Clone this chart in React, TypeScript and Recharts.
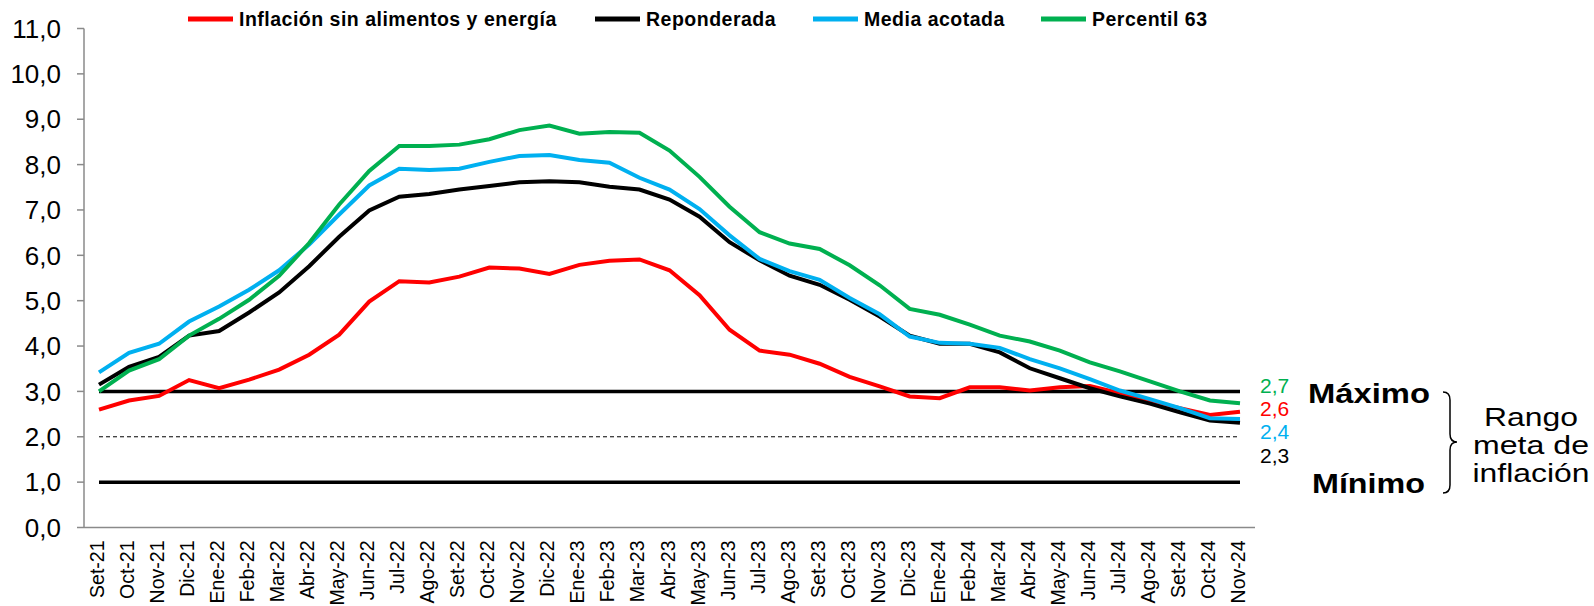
import { LineChart, Line, XAxis, YAxis, ReferenceLine } from "recharts"

const months = [
  "Set-21", "Oct-21", "Nov-21", "Dic-21", "Ene-22", "Feb-22", "Mar-22", "Abr-22", "May-22", "Jun-22",
  "Jul-22", "Ago-22", "Set-22", "Oct-22", "Nov-22", "Dic-22", "Ene-23", "Feb-23", "Mar-23", "Abr-23",
  "May-23", "Jun-23", "Jul-23", "Ago-23", "Set-23", "Oct-23", "Nov-23", "Dic-23", "Ene-24", "Feb-24",
  "Mar-24", "Abr-24", "May-24", "Jun-24", "Jul-24", "Ago-24", "Set-24", "Oct-24", "Nov-24",
]

const sinAlimentos = [
  2.6, 2.8, 2.9, 3.25, 3.07, 3.26, 3.48, 3.81, 4.25, 4.98, 5.43, 5.4, 5.53, 5.73,
  5.71, 5.59, 5.79, 5.88, 5.91, 5.67, 5.12, 4.36, 3.9, 3.81, 3.61, 3.32, 3.11,
  2.89, 2.85, 3.09, 3.09, 3.02, 3.09, 3.12, 2.96, 2.78, 2.63, 2.48, 2.55,
]
const reponderada = [
  3.15, 3.54, 3.76, 4.23, 4.33, 4.74, 5.18, 5.76, 6.41, 6.99, 7.29, 7.35, 7.45, 7.53,
  7.61, 7.63, 7.61, 7.51, 7.45, 7.23, 6.85, 6.29, 5.89, 5.55, 5.35, 5.02, 4.65,
  4.23, 4.05, 4.05, 3.86, 3.51, 3.29, 3.07, 2.89, 2.73, 2.54, 2.36, 2.31,
]
const mediaAcotada = [
  3.42, 3.85, 4.05, 4.54, 4.87, 5.24, 5.67, 6.24, 6.9, 7.54, 7.91, 7.88, 7.91, 8.06,
  8.19, 8.21, 8.1, 8.04, 7.71, 7.45, 7.02, 6.44, 5.92, 5.65, 5.46, 5.06, 4.7,
  4.21, 4.07, 4.05, 3.96, 3.71, 3.51, 3.27, 3.02, 2.83, 2.63, 2.41, 2.39,
]
const percentil63 = [
  3.0, 3.46, 3.71, 4.23, 4.6, 5.02, 5.55, 6.27, 7.12, 7.86, 8.41, 8.41, 8.44, 8.56,
  8.76, 8.86, 8.68, 8.72, 8.7, 8.31, 7.73, 7.07, 6.51, 6.26, 6.14, 5.78, 5.34,
  4.82, 4.69, 4.47, 4.23, 4.1, 3.9, 3.64, 3.44, 3.22, 3.0, 2.8, 2.74,
]

const yTicks = [0, 1, 2, 3, 4, 5, 6, 7, 8, 9, 10, 11]
const rangoMeta = { min: 1, mid: 2, max: 3 }

const series = [
  { key: "sae", name: "Inflación sin alimentos y energía", color: "#ff0000", values: sinAlimentos },
  { key: "rep", name: "Reponderada", color: "#000000", values: reponderada },
  { key: "med", name: "Media acotada", color: "#00b0f0", values: mediaAcotada },
  { key: "p63", name: "Percentil 63", color: "#00b050", values: percentil63 },
]

const lastLabels = [
  { text: "2,7", color: "#00b050", y: 393 },
  { text: "2,6", color: "#ff0000", y: 416 },
  { text: "2,4", color: "#00b0f0", y: 439 },
  { text: "2,3", color: "#000000", y: 463 },
]

const legendPos = [188, 595, 813, 1041]

const FONT = "'Liberation Sans', Arial, sans-serif"
const fmt = (v: number) => v.toFixed(1).replace(".", ",")

const data = months.map((mes, i) => {
  const row: Record<string, string | number> = { mes }
  series.forEach((s) => {
    row[s.key] = s.values[i]
  })
  return row
})

const MonthTick = (props: any) => {
  const { x, y, payload } = props
  const tx = x + 5
  return (
    <text
      x={tx}
      y={y}
      transform={`rotate(-90 ${tx} ${y})`}
      textAnchor="end"
      fontSize={19.5}
      fontFamily={FONT}
      fill="#000"
    >
      {payload.value}
    </text>
  )
}

export default function App() {
  const first = months[0]
  const last = months[months.length - 1]
  return (
    <div style={{ position: "relative", width: 1594, height: 606, background: "#fff" }}>
      <style>{`body{margin:0}`}</style>
      <LineChart
        width={1594}
        height={606}
        data={data}
        margin={{ top: 28.5, right: 339, bottom: 0, left: 0 }}
      >
        <XAxis
          dataKey="mes"
          interval={0}
          height={78.5}
          padding={{ left: 15, right: 15 }}
          axisLine={{ stroke: "#8a8a8a", strokeWidth: 1.5 }}
          tickLine={false}
          tickMargin={7}
          tick={<MonthTick />}
        />
        <YAxis
          domain={[0, 11]}
          ticks={yTicks}
          width={84}
          tickFormatter={fmt}
          tickSize={7}
          tickMargin={16}
          axisLine={{ stroke: "#8a8a8a", strokeWidth: 1.5 }}
          tickLine={{ stroke: "#8a8a8a", strokeWidth: 1.5 }}
          tick={{ fontSize: 26, fill: "#000", fontFamily: FONT }}
        />
        <ReferenceLine
          segment={[{ x: first, y: rangoMeta.max }, { x: last, y: rangoMeta.max }]}
          stroke="#000"
          strokeWidth={3.5}
        />
        <ReferenceLine
          segment={[{ x: first, y: rangoMeta.mid }, { x: last, y: rangoMeta.mid }]}
          stroke="#000"
          strokeWidth={1}
          strokeDasharray="4 3"
        />
        <ReferenceLine
          segment={[{ x: first, y: rangoMeta.min }, { x: last, y: rangoMeta.min }]}
          stroke="#000"
          strokeWidth={3.5}
        />
        {series.map((s) => (
          <Line
            key={s.key}
            type="linear"
            dataKey={s.key}
            name={s.name}
            stroke={s.color}
            strokeWidth={4}
            dot={false}
            activeDot={false}
            isAnimationActive={false}
          />
        ))}
      </LineChart>

      <svg
        width={1594}
        height={606}
        style={{ position: "absolute", left: 0, top: 0, pointerEvents: "none" }}
        fontFamily={FONT}
      >
        {/* legend */}
        {series.map((s, i) => (
          <g key={s.key}>
            <line x1={legendPos[i]} x2={legendPos[i] + 45} y1={19} y2={19} stroke={s.color} strokeWidth={5} />
            <text x={legendPos[i] + 51} y={26} fontSize={19.5} fontWeight="bold" fill="#000" letterSpacing={0.5}>
              {s.name}
            </text>
          </g>
        ))}

        {/* last values */}
        {lastLabels.map((l) => (
          <text key={l.text} x={1260} y={l.y} fontSize={21} fill={l.color}>
            {l.text}
          </text>
        ))}

        <text x={1308} y={402.5} fontSize={27} fontWeight="bold" textLength={122} lengthAdjust="spacingAndGlyphs">
          Máximo
        </text>
        <text x={1312} y={493} fontSize={27} fontWeight="bold" textLength={113} lengthAdjust="spacingAndGlyphs">
          Mínimo
        </text>

        <path
          d="M1443,392 Q1450,392 1450,400 L1450,434 Q1450,442 1457,442 Q1450,442 1450,450 L1450,485 Q1450,493 1443,493"
          fill="none"
          stroke="#000"
          strokeWidth={1.5}
        />

        <text x={1531} y={426} fontSize={26} textAnchor="middle" textLength={94} lengthAdjust="spacingAndGlyphs">
          Rango
        </text>
        <text x={1531} y={454} fontSize={26} textAnchor="middle" textLength={116} lengthAdjust="spacingAndGlyphs">
          meta de
        </text>
        <text x={1531} y={482} fontSize={26} textAnchor="middle" textLength={117} lengthAdjust="spacingAndGlyphs">
          inflación
        </text>
      </svg>
    </div>
  )
}
